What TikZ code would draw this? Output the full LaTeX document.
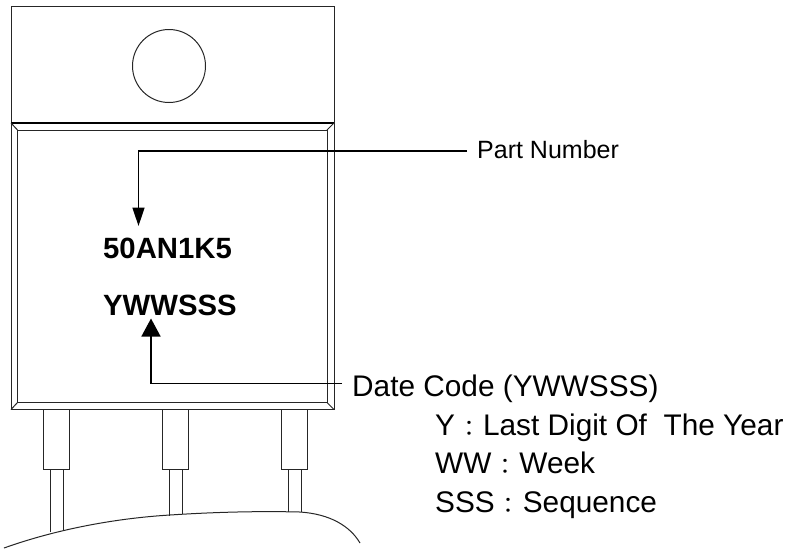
\documentclass[tikz,border=0pt]{standalone}
\usepackage{fontspec}
\setmainfont{Liberation Sans}
\newfontfamily\cjkfont{Noto Sans CJK TC}
\usetikzlibrary{arrows.meta}
\newcommand{\cln}{\makebox[28pt]{\raisebox{-1.5pt}{\cjkfont\fontsize{22}{22}\selectfont ：}}}
\tikzset{
  pkgline/.style={line width=1pt,black!85},
  leader/.style={line width=1.5pt},
  marking/.style={anchor=base west,inner sep=0pt,font=\fontsize{29.3}{34}\selectfont\bfseries},
  legend/.style={anchor=base west,inner sep=0pt,font=\fontsize{29.8}{34}\selectfont},
  leadin/.style={anchor=west,inner ysep=0pt,inner xsep=10pt,text depth=0pt}
}
\begin{document}
\begin{tikzpicture}[x=1pt,y=-1pt]
        \useasboundingbox (0,0) rectangle (791,550);
        % tab and body
        \draw[pkgline] (11,6) rectangle (334,123);
        \draw[pkgline] (169,66) circle (36.5);
        \draw[pkgline] (11,123) rectangle (334,409.5);
        \draw[pkgline] (17.5,130) rectangle (327,402.5);
        \draw[line width=1.5pt] (11,123) -- (334,123);
        \foreach \xa/\ya/\xb/\yb in {11/123/17.5/130,334/123/327/130,11/409.5/17.5/402.5,334/409.5/327/402.5}
          \draw[pkgline] (\xa,\ya) -- (\xb,\yb);
        % leads
        \foreach \xl/\yl/\yr in {43.5/532/530,162.5/515.5/514,281/512/512} {
          \draw[pkgline] (\xl,409.5) rectangle ++(26,59.5);
          \draw[pkgline] (\xl+7,469) -- (\xl+7,\yl);
          \draw[pkgline] (\xl+20,469) -- (\xl+20,\yr);
        }
        % board edge
        \draw[pkgline] (4,548) .. controls (60,528) and (120,518) .. (170,515)
          .. controls (215,512) and (260,511) .. (300,512)
          .. controls (330,514) and (350,526) .. (360,543);
        % texts
        \node[marking] (partno) at (103,258) {50AN1K5};
        \node[marking] (dateno) at (103,315.5) {YWWSSS};
        \node[leadin,font=\fontsize{25}{30}\selectfont,text height=15pt] (partlbl) at (467,151) {Part Number};
        \node[leadin,font=\fontsize{29.8}{34}\selectfont,text height=25pt] (datelbl) at (342,383.5) {Date Code (YWWSSS)};
        \node[legend] (yearlbl) at (435,435) {Y\cln Last Digit Of\ \ The Year};
        \node[legend] (weeklbl) at (435,473) {WW\cln Week};
        \node[legend] (seqlbl) at (435,512) {SSS\cln Sequence};
        % arrows
        \coordinate (parttip) at (138.5,226);
        \coordinate (datetip) at (151,318.5);
        \draw[leader,-{Triangle[length=18.5pt,width=12pt]}] (partlbl.west) -| (parttip);
        \draw[leader,-{Triangle[length=18pt,width=19pt]}] (datelbl.west) -| (datetip);
      \end{tikzpicture}
\end{document}
